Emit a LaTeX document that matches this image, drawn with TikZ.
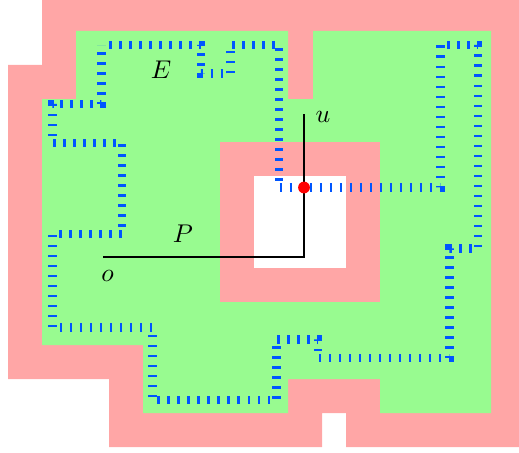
\documentclass[tikz,border=0pt]{standalone}
\usepackage{tikz}
\usetikzlibrary{decorations}
\usepackage{amsmath}
\usepackage{xcolor}
\definecolor{pinkzone}{RGB}{255,166,166}
\definecolor{freezone}{RGB}{152,251,144}
\definecolor{routeblue}{RGB}{0,85,255}

\begin{document}
\begin{tikzpicture}[x=0.39pt,y=-0.39pt]
					\tikzstyle{route} = [draw=routeblue,line width=3.3pt,dash pattern=on 1pt off 2.9pt,dash expand off]
					\tikzstyle{track} = [draw=black,thick]
					\tikzstyle{dot} = [circle,fill=red,inner sep=0pt,minimum size=4.6pt]
					\useasboundingbox (0,0) rectangle (519,452);
					\fill[pinkzone] (42,0) -- (519,0) -- (519,447) -- (346,447) -- (346,413) -- (322,413) -- (322,447) -- (109,447) -- (109,379) -- (8,379) -- (8,65) -- (42,65) -- cycle;
					\fill[freezone] (76,31) -- (288,31) -- (288,99) -- (313,99) -- (313,31) -- (491,31) -- (491,413) -- (380,413) -- (380,379) -- (288,379) -- (288,413) -- (143,413) -- (143,345) -- (42,345) -- (42,99) -- (76,99) -- cycle;
					\fill[pinkzone] (220,142) rectangle (380,302);
					\fill[white] (254,176) rectangle (346,268);
					\coordinate (c1) at (101.5,45);
					\coordinate (c2) at (201,45);
					\coordinate (c3) at (201,73.5);
					\coordinate (c4) at (230.5,73.5);
					\coordinate (c5) at (230.5,45);
					\coordinate (c6) at (279,45);
					\coordinate (c7) at (279,187.5);
					\coordinate (c8) at (440.5,187.5);
					\coordinate (c9) at (440.5,45);
					\coordinate (c10) at (478,45);
					\coordinate (c11) at (478,248.5);
					\coordinate (c12) at (449.5,248.5);
					\coordinate (c13) at (449.5,358);
					\coordinate (c14) at (318,358);
					\coordinate (c15) at (318,339.5);
					\coordinate (c16) at (276.5,339.5);
					\coordinate (c17) at (276.5,400);
					\coordinate (c18) at (152.5,400);
					\coordinate (c19) at (152.5,327.5);
					\coordinate (c20) at (52.5,327.5);
					\coordinate (c21) at (52.5,234);
					\coordinate (c22) at (122,234);
					\coordinate (c23) at (122,143);
					\coordinate (c24) at (52.5,143);
					\coordinate (c25) at (52.5,104);
					\coordinate (c26) at (101.5,104);
					\draw[route] (c1)--(c2)--(c3)--(c4)--(c5)--(c6)--(c7)--(c8)--(c9)--(c10)--(c11)--(c12)--(c13)--(c14)--(c15)--(c16)--(c17)--(c18)--(c19)--(c20)--(c21)--(c22)--(c23)--(c24)--(c25)--(c26)--cycle;
					\coordinate (o) at (103,257);
					\coordinate (k) at (304,257);
					\coordinate (u) at (304,114);
					\draw[track] (o)--(k)--(u);
					\node[dot] (x) at (304,187.5) {};
					\node (lo) at (107.5,276) {$o$};
					\node (lp) at (183,234) {$P$};
					\node (lu) at (323,117) {$u$};
					\node (le) at (161,70) {$E$};
					\end{tikzpicture}
\end{document}
